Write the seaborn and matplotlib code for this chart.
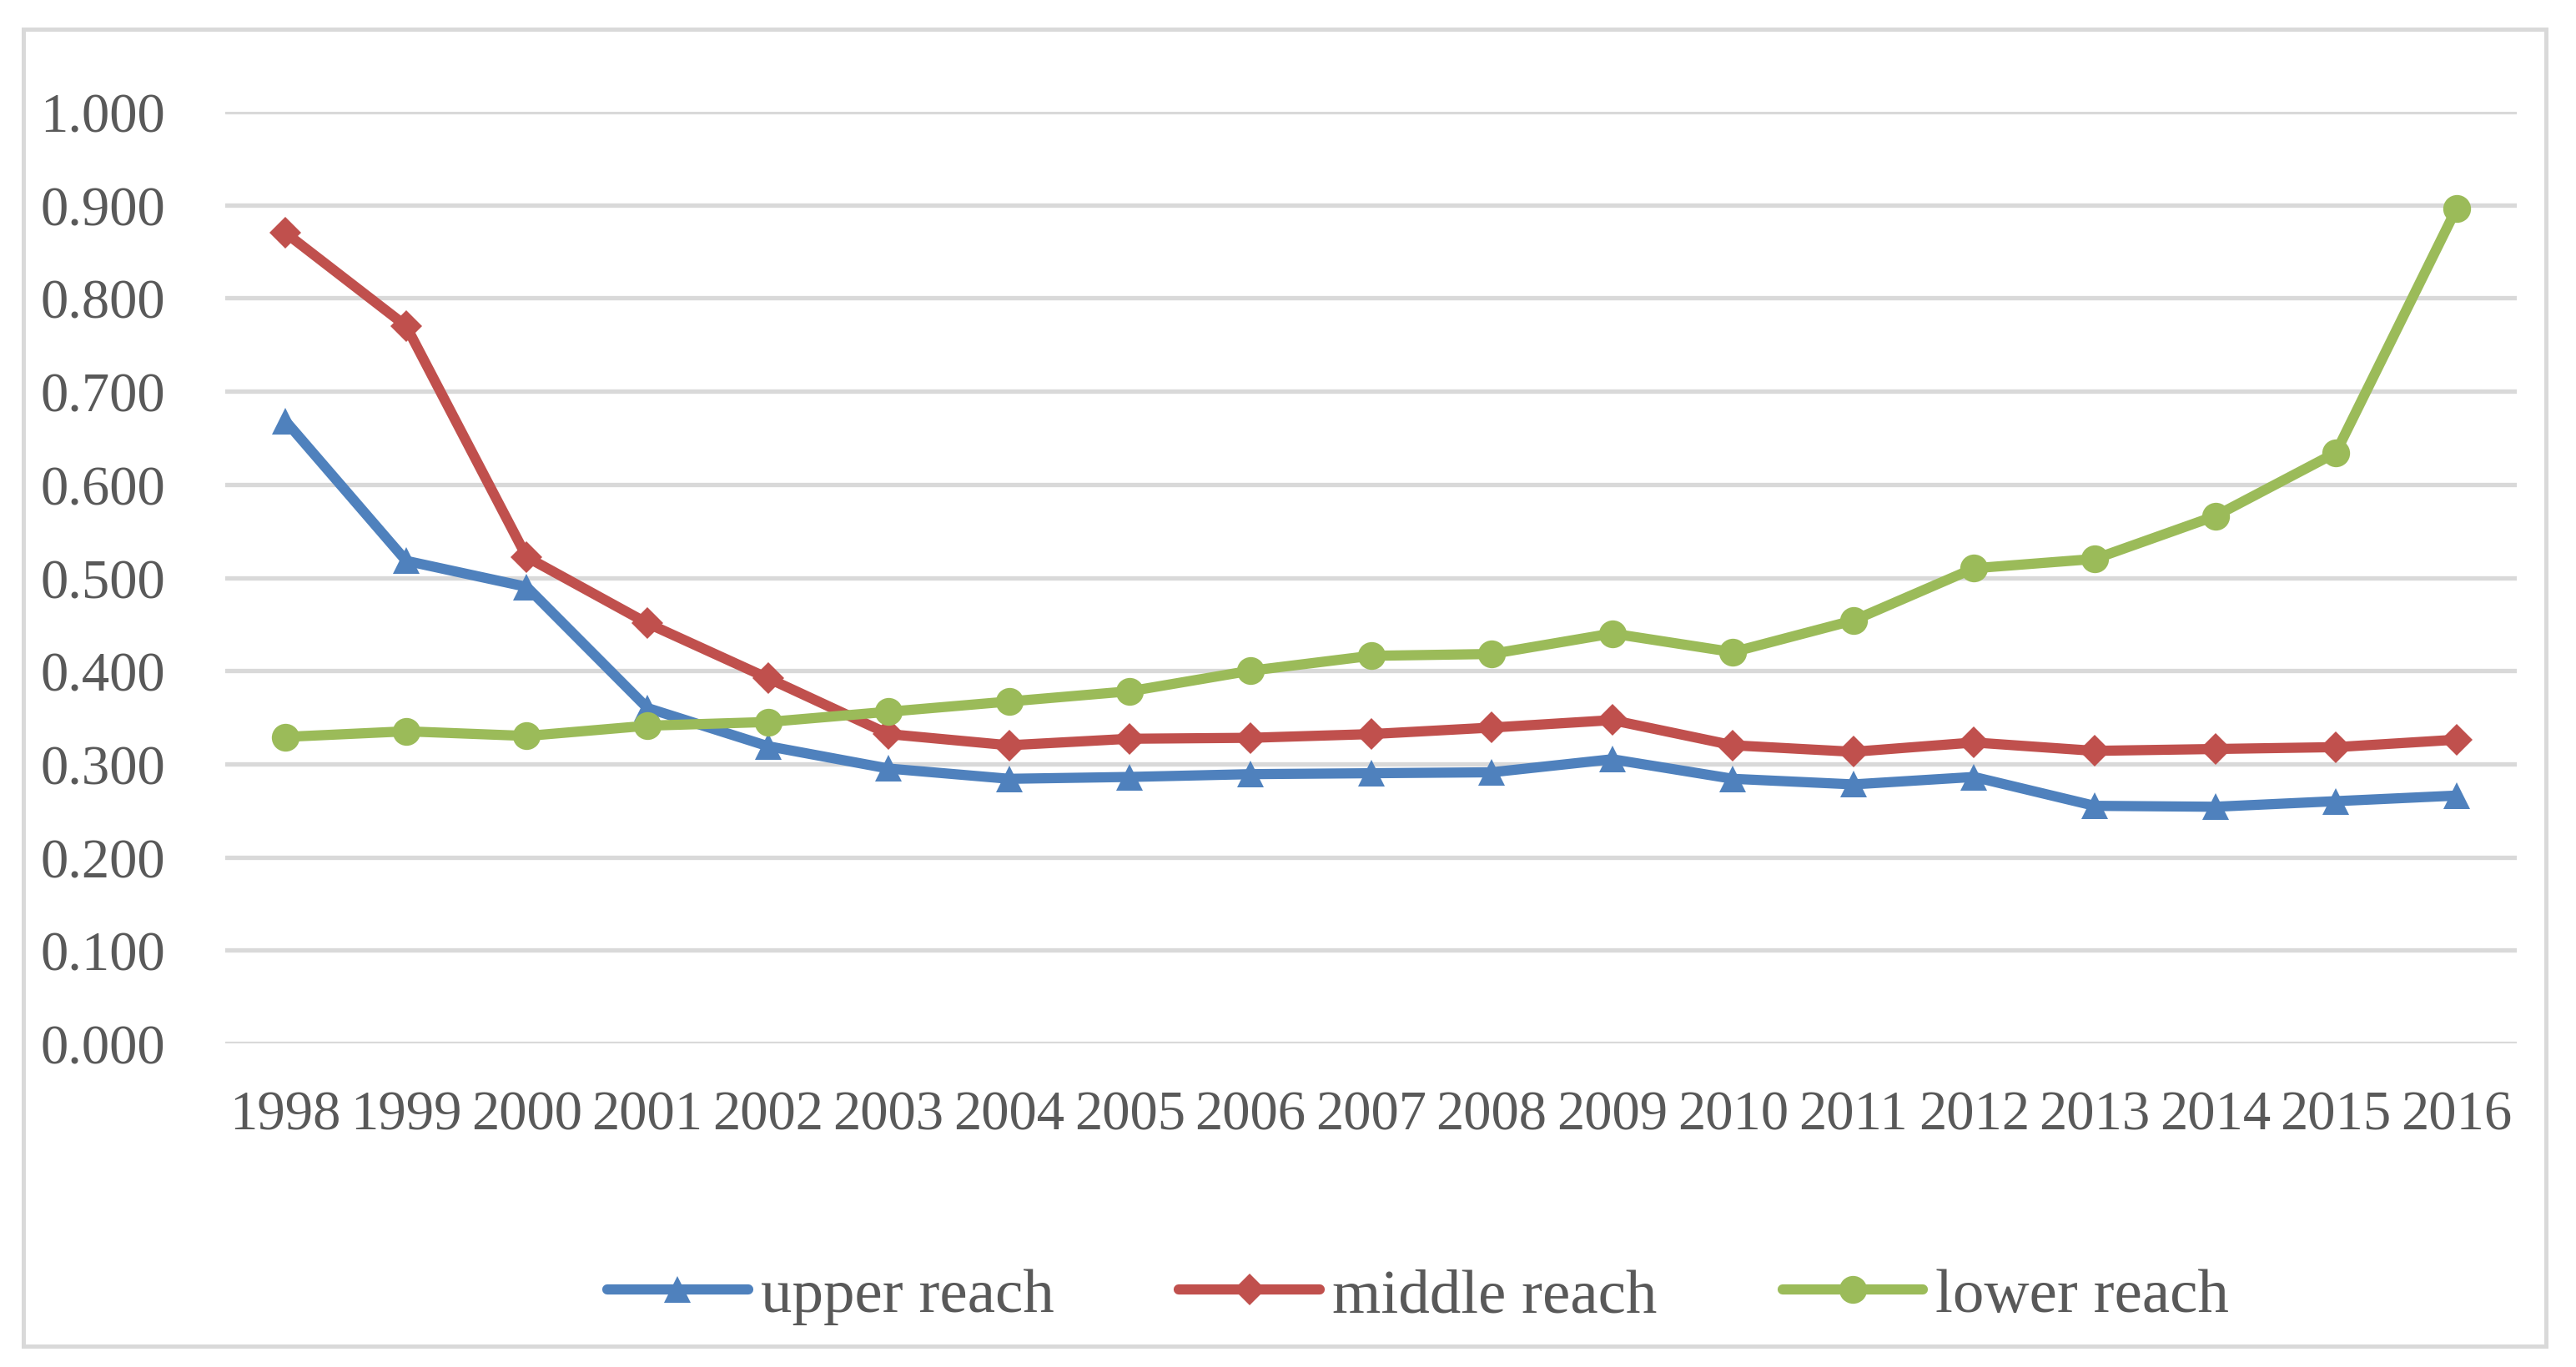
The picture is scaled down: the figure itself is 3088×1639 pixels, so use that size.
import matplotlib
matplotlib.use("Agg")
import matplotlib.pyplot as plt
import seaborn as sns
import pandas as pd
from matplotlib.patches import Rectangle

# data
years = [str(y) for y in range(1998, 2017)]
upper = [0.668, 0.518, 0.490, 0.360, 0.319, 0.295, 0.284, 0.286, 0.289, 0.290,
         0.291, 0.305, 0.284, 0.278, 0.286, 0.255, 0.254, 0.260, 0.266]
middle = [0.870, 0.770, 0.522, 0.451, 0.392, 0.332, 0.320, 0.327, 0.328, 0.332,
          0.339, 0.347, 0.320, 0.313, 0.323, 0.314, 0.316, 0.318, 0.326]
lower = [0.329, 0.335, 0.330, 0.341, 0.345, 0.356, 0.367, 0.378, 0.400, 0.416,
         0.418, 0.440, 0.420, 0.454, 0.510, 0.520, 0.566, 0.634, 0.896]
series = ["upper reach", "middle reach", "lower reach"]
y_ticks = [0.0, 0.1, 0.2, 0.3, 0.4, 0.5, 0.6, 0.7, 0.8, 0.9, 1.0]

df = pd.DataFrame({
    "year": list(range(len(years))) * 3,
    "value": upper + middle + lower,
    "series": [series[0]] * len(years) + [series[1]] * len(years) + [series[2]] * len(years),
})

sns.set_theme(style="white")
plt.rcParams["font.family"] = ["Liberation Serif", "DejaVu Serif"]

W, H = 3088, 1640
fig = plt.figure(figsize=(W / 200, H / 200), dpi=200)
ax = fig.add_axes([270 / W, 1 - 1252 / H, (3017 - 270) / W, (1252 - 135) / H])

palette = {"upper reach": "#4F81BD", "middle reach": "#C0504D", "lower reach": "#9BBB59"}
markers = {"upper reach": "^", "middle reach": "D", "lower reach": "o"}
sizes = {"upper reach": 11.5, "middle reach": 9.5, "lower reach": 12}

for s in series:
    sub = df[df["series"] == s]
    sns.lineplot(data=sub, x="year", y="value", color=palette[s], marker=markers[s],
                 markersize=sizes[s], markeredgewidth=0, linewidth=4.4, label=s,
                 solid_capstyle="round", solid_joinstyle="round",
                 ax=ax, clip_on=False, zorder=3)

ax.set_xlim(-0.5, len(years) - 0.5)
ax.set_ylim(0, 1.0)
ax.set_yticks(y_ticks)
ax.set_yticklabels([f"{v:.3f}" for v in y_ticks])
ax.set_xticks(range(len(years)))
ax.set_xticklabels(years)
ax.grid(axis="y", color="#D9D9D9", linewidth=1.9)
ax.grid(axis="x", visible=False)
ax.set_axisbelow(True)
for sp in ax.spines.values():
    sp.set_visible(False)
ax.tick_params(axis="y", length=0, pad=26, labelsize=24, labelcolor="#595959")
ax.tick_params(axis="x", length=0, pad=20, labelsize=24, labelcolor="#595959")
ax.set_xlabel("")
ax.set_ylabel("")

ax.legend_.remove()
handles, labels = ax.get_legend_handles_labels()
leg = fig.legend(handles, labels, loc="center", bbox_to_anchor=(1700 / W, 1 - 1555 / H),
                 ncol=3, frameon=False, fontsize=27, handlelength=2.25,
                 handletextpad=0.2, columnspacing=2.0)
for t in leg.get_texts():
    t.set_color("#595959")

# outer chart border
fig.patches.append(Rectangle((28 / W, 1 - 1615 / H), (3052 - 28) / W, (1615 - 36) / H,
                             transform=fig.transFigure, fill=False,
                             edgecolor="#D9D9D9", linewidth=1.8))

fig.savefig("out.png", dpi=200)
